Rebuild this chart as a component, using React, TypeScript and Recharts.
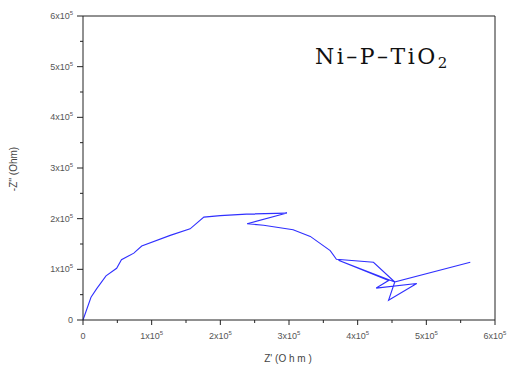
import { LineChart, Line, XAxis, YAxis, ReferenceLine } from "recharts";

// Nyquist data
const zReal = [
  0, 11650, 20000, 33500, 49000, 56000, 74000, 85500, 127000, 156000, 176000,
  200000, 238000, 297000, 239000, 263000, 306000, 331000, 360000, 369000,
  423000, 454000, 372000, 445000, 427000, 486000, 445000, 454000, 564000,
];
const zImag = [
  0, 45000, 62000, 87000, 102000, 119000, 132000, 146000, 167000, 180000,
  203000, 206000, 209000, 211000, 190000, 187000, 178000, 165000, 137000,
  120000, 114000, 75000, 118000, 78000, 63000, 72000, 39000, 75000, 114000,
];

const axisTicks = [
  0, 50000, 100000, 150000, 200000, 250000, 300000, 350000, 400000, 450000,
  500000, 550000, 600000,
];

const data = zReal.map((x, i) => ({ x, y: zImag[i] }));

const tickFont = {
  fontFamily: "'Liberation Sans', Arial, sans-serif",
  fontSize: 9,
  fill: "#555",
};

function TickLabel({ value, x, y, anchor }: any) {
  if (value === 0) {
    return (
      <text x={x} y={y} textAnchor={anchor} {...tickFont}>
        0
      </text>
    );
  }
  return (
    <text x={x} y={y} textAnchor={anchor} {...tickFont}>
      <tspan>{value / 100000}x10</tspan>
      <tspan dy={-4} fontSize={6}>
        5
      </tspan>
    </text>
  );
}

function XTick({ x, y, payload }: any) {
  const v = payload.value;
  const major = v % 100000 === 0;
  return (
    <g>
      <line x1={x} x2={x} y1={y} y2={y + (major ? 5 : 3)} stroke="#222" />
      {major && <TickLabel value={v} x={x} y={y + 19} anchor="middle" />}
    </g>
  );
}

function YTick({ x, y, payload }: any) {
  const v = payload.value;
  const major = v % 100000 === 0;
  return (
    <g>
      <line x1={x - (major ? 6 : 3)} x2={x} y1={y} y2={y} stroke="#222" />
      {major && <TickLabel value={v} x={x - 10} y={y + 3} anchor="end" />}
    </g>
  );
}

export default function App() {
  return (
    <div style={{ position: "absolute", left: 0, top: 0, width: 513, height: 370 }}>
      <LineChart
        width={513}
        height={370}
        data={data}
        margin={{ top: 16, right: 18, left: 0, bottom: 0 }}
      >
        <XAxis
          type="number"
          dataKey="x"
          domain={[0, 600000]}
          ticks={axisTicks}
          interval={0}
          height={50}
          tickSize={0}
          tickMargin={0}
          tickLine={false}
          tick={<XTick />}
          axisLine={{ stroke: "#222" }}
        />
        <YAxis
          type="number"
          dataKey="y"
          domain={[0, 600000]}
          ticks={axisTicks}
          interval={0}
          width={83}
          tickSize={0}
          tickMargin={0}
          tickLine={false}
          tick={<YTick />}
          axisLine={{ stroke: "#222" }}
        />
        <ReferenceLine y={600000} stroke="#222" />
        <ReferenceLine x={600000} stroke="#222" />
        <Line
          type="linear"
          dataKey="y"
          stroke="#3030ff"
          strokeWidth={1.1}
          dot={false}
          isAnimationActive={false}
        />
      </LineChart>
      <svg
        width={513}
        height={370}
        style={{ position: "absolute", left: 0, top: 0, pointerEvents: "none" }}
      >
        <text
          x={288}
          y={362}
          textAnchor="middle"
          fontFamily="'Liberation Sans', Arial, sans-serif"
          fontSize={10}
          fill="#444"
        >
          Z' (O h m )
        </text>
        <text
          transform="translate(17,169) rotate(-90)"
          textAnchor="middle"
          fontFamily="'Liberation Sans', Arial, sans-serif"
          fontSize={10}
          fill="#444"
        >
          -Z'' (Ohm)
        </text>
        <text
          x={315}
          y={64}
          fontFamily="'DejaVu Serif', serif"
          fontSize={22}
          letterSpacing={2.5}
          fill="#111"
        >
          Ni–P–TiO
          <tspan dy={4} fontSize={15}>
            2
          </tspan>
        </text>
      </svg>
    </div>
  );
}
